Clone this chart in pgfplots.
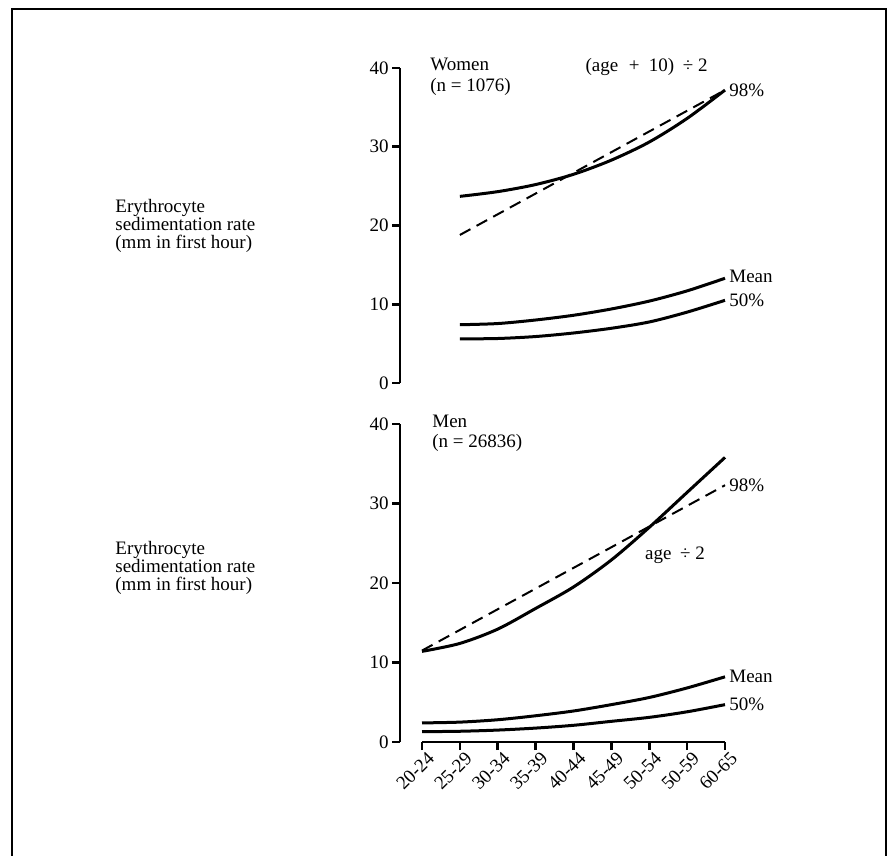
\documentclass[border=0pt]{standalone}
\usepackage{fontspec}
\setmainfont{Liberation Serif}
\usepackage{pgfplots}
\pgfplotsset{compat=1.18}
\pgfplotsset{
 panel/.style={
  scale only axis, width=162.5pt, height=157.5pt,
  xmin=-0.581, xmax=8, ymin=0, ymax=40,
  axis y line*=left,
  ytick={0,10,20,30,40},
  tick align=outside,
  major tick length=4pt,
  tick style={line width=1.3pt, black},
  y axis line style={line width=1.3pt},
  /pgf/number format/assume math mode=true,
  yticklabel style={font=\fontsize{9.5}{10}\selectfont, inner sep=1.5pt},
  clip=false,
  every axis plot/.append style={line width=1.5pt, black},
 },
}
\tikzset{
 dash98/.style={line width=1pt, dash pattern=on 6pt off 3.5pt},
 lab/.style={font=\fontsize{9.5}{10}\selectfont, inner sep=2pt},
}
\begin{document}
\fontsize{9.5}{10.5}\selectfont
\begin{tikzpicture}
\useasboundingbox (0,0) rectangle (445.5pt,-428pt);
\draw[line width=1.4pt] (6pt,-428pt) -- (6pt,-4.5pt) -- (443pt,-4.5pt) -- (443pt,-428pt);

% ---------- Women ----------
\begin{axis}[panel, axis x line=none, at={(200pt,-191.5pt)}, anchor=south west]
\addplot[smooth] coordinates {(1,23.7)(2,24.3)(3,25.2)(4,26.5)(5,28.3)(6,30.6)(7,33.6)(8,37.2)};
\addplot[dash98] coordinates {(1,18.8)(8,37.2)};
\addplot[smooth] coordinates {(1,7.4)(2,7.55)(3,8.0)(4,8.6)(5,9.4)(6,10.4)(7,11.7)(8,13.3)};
\addplot[smooth] coordinates {(1,5.6)(2,5.65)(3,5.9)(4,6.35)(5,6.95)(6,7.75)(7,9.0)(8,10.5)};
\node[lab, anchor=west] at (axis cs:8,37.2) {98\%};
\node[lab, anchor=west] at (axis cs:8,13.6) {Mean};
\node[lab, anchor=west] at (axis cs:8,10.5) {50\%};
\node[lab] at (axis cs:5.93,40.1) {(age\hspace{0.3em} + \hspace{0.25em}10)\hspace{0.2em} ÷ 2};
\end{axis}

% ---------- Men ----------
\begin{axis}[panel, height=159pt, at={(200pt,-371pt)}, anchor=south west,
  axis x line*=bottom, x axis line style={draw=none},
  xtick={0,1,2,3,4,5,6,7,8},
  xticklabels={20-24,25-29,30-34,35-39,40-44,45-49,50-54,50-59,60-65},
  xticklabel style={rotate=45, anchor=east, font=\fontsize{9.5}{10}\selectfont, inner sep=1.5pt, xshift=3pt, yshift=-5pt},
  tick align=outside]
\draw[line width=1.3pt] (axis cs:0,0) -- (axis cs:8,0);
\addplot[smooth] coordinates {(0,11.4)(1,12.4)(2,14.2)(3,16.8)(4,19.5)(5,22.9)(6,27.0)(7,31.4)(8,35.8)};
\addplot[dash98] coordinates {(0,11.5)(8,32.3)};
\addplot[smooth] coordinates {(0,2.4)(1,2.5)(2,2.8)(3,3.3)(4,3.9)(5,4.7)(6,5.6)(7,6.8)(8,8.2)};
\addplot[smooth] coordinates {(0,1.3)(1,1.35)(2,1.5)(3,1.75)(4,2.1)(5,2.6)(6,3.1)(7,3.8)(8,4.7)};
\node[lab, anchor=west] at (axis cs:8,32.3) {98\%};
\node[lab, anchor=west] at (axis cs:8,8.3) {Mean};
\node[lab, anchor=west] at (axis cs:8,4.8) {50\%};
\node[lab] at (axis cs:6.68,23.5) {age\hspace{0.2em} ÷ 2};
\end{axis}

\begin{scope}[x=0.5pt, y=-0.5pt]
\node[anchor=west, align=left, font=\fontsize{9.5}{9}\selectfont, inner sep=0pt] at (115,226) {Erythrocyte\\sedimentation rate\\(mm in first hour)};
\node[anchor=west, align=left, font=\fontsize{9.5}{9}\selectfont, inner sep=0pt] at (115,568) {Erythrocyte\\sedimentation rate\\(mm in first hour)};
\node[anchor=north west, align=left, font=\fontsize{9.5}{10.5}\selectfont, inner sep=0pt] at (430,58) {Women\\(n = 1076)};
\node[anchor=north west, align=left, font=\fontsize{9.5}{10}\selectfont, inner sep=0pt] at (432,415) {Men\\(n = 26836)};
\end{scope}
\end{tikzpicture}
\end{document}
